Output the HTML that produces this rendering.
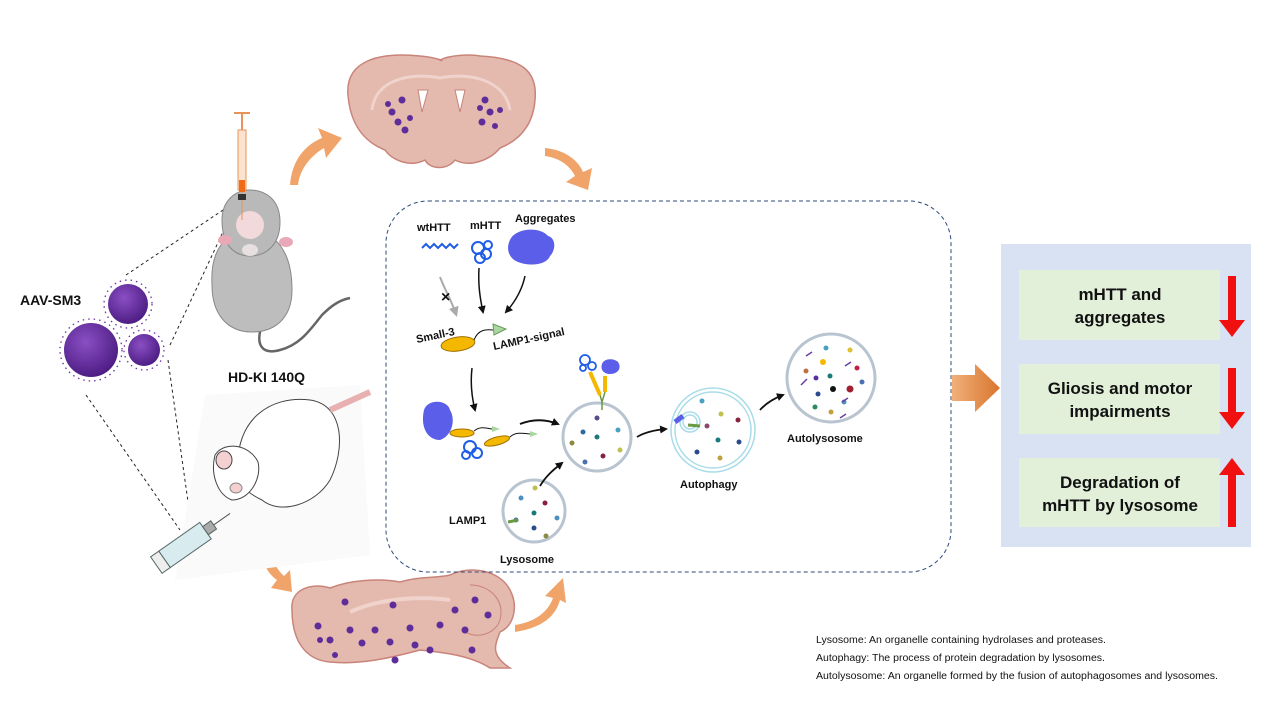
<!DOCTYPE html>
<html><head><meta charset="utf-8"><style>
html,body{margin:0;padding:0;background:#fff}
svg{display:block}
text{font-family:"Liberation Sans",Arial,sans-serif}
</style></head><body>
<svg width="1269" height="714" viewBox="0 0 1269 714" xmlns="http://www.w3.org/2000/svg">
<defs>
<marker id="ah" markerWidth="8" markerHeight="8" refX="6" refY="4" orient="auto" markerUnits="userSpaceOnUse"><path d="M0,0 L8,4 L0,8 Z" fill="#111"/></marker>
<marker id="ahg" markerWidth="10" markerHeight="10" refX="7" refY="5" orient="auto" markerUnits="userSpaceOnUse"><path d="M0,0 L10,5 L0,10 Z" fill="#aaa"/></marker>
<radialGradient id="vir" cx="0.4" cy="0.35" r="0.7"><stop offset="0" stop-color="#8a4fc4"/><stop offset="1" stop-color="#4a1a80"/></radialGradient>
<linearGradient id="bigarr" x1="0" x2="1"><stop offset="0" stop-color="#f0b07a"/><stop offset="1" stop-color="#d9752e"/></linearGradient>
</defs>

<!-- coronal brain -->
<path d="M348,95 C345,60 380,52 420,56 C440,58 445,62 440,60 C450,55 470,54 480,56 C520,58 538,70 535,100 C533,125 520,140 500,148 C490,160 470,168 455,160 C448,170 430,170 425,160 C410,168 392,160 385,150 C360,140 350,120 348,95 Z" fill="#e4b9ae" stroke="#c9847a" stroke-width="1.5"/>
<path d="M372,110 C375,80 410,72 440,78 C470,72 505,80 510,110" fill="none" stroke="#f0d3cc" stroke-width="3"/>
<path d="M418,90 L428,90 L422,112 Z" fill="#fff" stroke="#c9847a"/>
<path d="M455,90 L465,90 L460,112 Z" fill="#fff" stroke="#c9847a"/>
<g fill="#5e2d9a">
<circle cx="392" cy="112" r="3.5"/><circle cx="402" cy="100" r="3.5"/><circle cx="398" cy="122" r="3.5"/><circle cx="405" cy="130" r="3.5"/><circle cx="388" cy="104" r="3"/><circle cx="410" cy="118" r="3"/>
<circle cx="485" cy="100" r="3.5"/><circle cx="490" cy="112" r="3.5"/><circle cx="482" cy="122" r="3.5"/><circle cx="495" cy="126" r="3"/><circle cx="480" cy="108" r="3"/><circle cx="500" cy="110" r="3"/>
</g>

<!-- sagittal brain -->
<path d="M292,610 C290,590 310,582 330,588 C350,580 380,578 400,582 C420,576 440,578 450,575 C470,565 500,570 510,590 C518,605 515,625 500,632 C495,645 490,655 510,668 L490,668 C470,655 440,652 420,650 C390,658 360,665 330,662 C305,660 292,640 292,610 Z" fill="#e4b9ae" stroke="#c9847a" stroke-width="1.5"/>
<path d="M470,585 C490,585 505,600 500,620 C495,635 475,640 462,630" fill="none" stroke="#c9847a"/>
<path d="M350,612 C380,598 420,596 450,600" fill="none" stroke="#f0d3cc" stroke-width="4"/>
<g fill="#5e2d9a">
<circle cx="318" cy="626" r="3.5"/><circle cx="330" cy="640" r="3.5"/><circle cx="350" cy="630" r="3.5"/><circle cx="362" cy="643" r="3.5"/><circle cx="375" cy="630" r="3.5"/><circle cx="345" cy="602" r="3.5"/>
<circle cx="393" cy="605" r="3.5"/><circle cx="390" cy="642" r="3.5"/><circle cx="395" cy="660" r="3.5"/><circle cx="410" cy="628" r="3.5"/><circle cx="415" cy="645" r="3.5"/><circle cx="430" cy="650" r="3.5"/>
<circle cx="440" cy="625" r="3.5"/><circle cx="455" cy="610" r="3.5"/><circle cx="465" cy="630" r="3.5"/><circle cx="475" cy="600" r="3.5"/><circle cx="488" cy="615" r="3.5"/><circle cx="472" cy="650" r="3.5"/><circle cx="335" cy="655" r="3"/><circle cx="320" cy="640" r="3"/>
</g>

<!-- orange curved arrows -->
<g fill="#f0a46a">
<path d="M290,185 C292,160 305,145 322,138 L318,128 L342,138 L326,158 L324,148 C312,155 300,168 298,185 Z"/>
<path d="M545,148 C565,150 578,160 583,172 L592,168 L588,190 L566,182 L575,176 C570,166 560,158 545,156 Z"/>
<path d="M260,530 C258,555 265,572 277,580 L271,588 L292,592 L290,570 L284,576 C274,567 268,552 268,530 Z"/>
<path d="M515,625 C535,622 548,612 553,598 L545,596 L563,578 L566,603 L560,600 C555,618 540,628 515,632 Z"/>
</g>

<!-- dashed lines from virus -->
<g stroke="#222" stroke-width="1" stroke-dasharray="3,3" fill="none">
<path d="M126,275 L238,200"/><path d="M170,345 L238,200"/>
<path d="M86,395 L180,530"/><path d="M168,360 L192,530"/>
</g>

<!-- viruses -->
<g stroke="#6b2fa8" stroke-width="1.3">
<circle cx="128" cy="304" r="20" fill="url(#vir)" stroke="none"/>
<circle cx="91" cy="350" r="27" fill="url(#vir)" stroke="none"/>
<circle cx="144" cy="350" r="16" fill="url(#vir)" stroke="none"/>
<g fill="none" stroke-dasharray="1.5,4">
<circle cx="128" cy="304" r="24"/><circle cx="91" cy="350" r="31"/><circle cx="144" cy="350" r="20"/>
</g>
</g>
<text x="20" y="305" font-size="14" font-weight="bold" fill="#111">AAV-SM3</text>

<!-- gray mouse -->
<path d="M262,325 C255,345 262,355 280,350 C300,345 310,330 322,315 C332,305 340,300 350,298" fill="none" stroke="#666" stroke-width="2.5"/>
<path d="M212,285 C210,250 225,232 250,230 C275,232 292,250 292,290 C292,318 275,332 252,332 C228,332 212,315 212,285 Z" fill="#bdbdbd" stroke="#888"/>
<path d="M222,220 C222,200 236,190 250,190 C266,190 280,200 280,222 C280,245 266,256 250,256 C234,256 222,245 222,220 Z" fill="#b9b9b9" stroke="#888"/>
<ellipse cx="250" cy="225" rx="14" ry="14" fill="#f2d9db"/>
<ellipse cx="250" cy="250" rx="8" ry="6" fill="#e8e0e0"/>
<ellipse cx="225" cy="240" rx="7" ry="5" fill="#e8a8b8"/><ellipse cx="286" cy="242" rx="7" ry="5" fill="#e8a8b8"/>
<!-- syringe top -->
<rect x="238" y="130" width="8" height="60" fill="#fbe3cf" stroke="#e8935a"/>
<rect x="239" y="180" width="6" height="12" fill="#f06a1a"/>
<line x1="242" y1="112" x2="242" y2="130" stroke="#e8935a" stroke-width="2"/>
<line x1="234" y1="113" x2="250" y2="113" stroke="#e8935a" stroke-width="2"/>
<line x1="242" y1="192" x2="242" y2="220" stroke="#e8935a"/>
<rect x="238" y="194" width="8" height="6" fill="#333"/>

<text x="228" y="382" font-size="14" font-weight="bold" fill="#111">HD-KI 140Q</text>

<!-- white mouse area -->
<path d="M205,395 L360,385 L370,555 L175,580 Z" fill="#fafafa"/>
<path d="M238,470 C235,420 270,395 310,400 C345,405 345,450 330,480 C315,505 280,515 262,500 C245,492 240,485 238,470 Z" fill="#fff" stroke="#444"/>
<path d="M330,410 L370,392" stroke="#e8b0b0" stroke-width="6"/>
<path d="M215,455 C225,440 250,445 258,462 C262,478 250,500 232,500 C218,495 210,475 215,455 Z" fill="#fff" stroke="#444"/>
<ellipse cx="224" cy="460" rx="8" ry="9" fill="#f5d0d0" stroke="#444"/>
<ellipse cx="236" cy="488" rx="6" ry="5" fill="#f5d0d0" stroke="#888"/>
<!-- syringe bottom -->
<g transform="rotate(-35 185 545)">
<rect x="160" y="535" width="50" height="20" fill="#d8ecef" stroke="#566"/>
<rect x="150" y="535" width="10" height="20" fill="#eee" stroke="#566"/>
<rect x="210" y="540" width="10" height="10" fill="#aaa" stroke="#566"/>
<line x1="220" y1="545" x2="240" y2="545" stroke="#555"/>
</g>

<!-- dashed panel -->
<rect x="386" y="201" width="565" height="371" rx="42" fill="none" stroke="#2c4a7a" stroke-width="1" stroke-dasharray="4,3"/>

<g font-size="11" font-weight="bold" fill="#111">
<text x="417" y="231">wtHTT</text>
<text x="470" y="229">mHTT</text>
<text x="515" y="222">Aggregates</text>
<text x="417" y="343" transform="rotate(-12 417 343)">Small-3</text>
<text x="494" y="350" transform="rotate(-12 494 350)">LAMP1-signal</text>
<text x="449" y="524">LAMP1</text>
<text x="500" y="563">Lysosome</text>
<text x="680" y="488">Autophagy</text>
<text x="787" y="442">Autolysosome</text>
</g>
<path d="M422,248 l4,-4 l4,4 l4,-4 l4,4 l4,-4 l4,4 l4,-4 l4,4 l4,-4" fill="none" stroke="#1f5de6" stroke-width="2"/>
<g fill="none" stroke="#1f5de6" stroke-width="2">
<circle cx="478" cy="248" r="6"/><circle cx="486" cy="254" r="5"/><circle cx="480" cy="258" r="5"/><circle cx="488" cy="245" r="4"/>
</g>
<path d="M510,240 C515,228 540,226 548,236 C556,238 556,250 550,256 C546,266 528,266 518,262 C508,258 506,248 510,240 Z" fill="#5a5ee8"/>
<path d="M440,277 C445,290 452,302 456,314" fill="none" stroke="#aaa" stroke-width="2" marker-end="url(#ahg)"/>
<text x="441" y="302" font-size="16" font-weight="bold" fill="#111">×</text>
<path d="M479,268 C478,285 480,298 483,312" fill="none" stroke="#111" stroke-width="1.5" marker-end="url(#ah)"/>
<path d="M525,276 C522,290 515,302 506,312" fill="none" stroke="#111" stroke-width="1.5" marker-end="url(#ah)"/>
<ellipse cx="458" cy="344" rx="17" ry="7" transform="rotate(-8 458 344)" fill="#f5b800" stroke="#a07000"/>
<path d="M474,340 C478,330 485,329 493,330" fill="none" stroke="#111"/>
<path d="M493,324 L506,329 L494,335 Z" fill="#a8d8a0" stroke="#6a9a60"/>
<path d="M472,368 C470,385 472,398 475,410" fill="none" stroke="#111" stroke-width="1.5" marker-end="url(#ah)"/>
<path d="M424,410 C428,398 448,400 450,410 C456,420 452,436 440,440 C428,440 420,428 424,410 Z" fill="#5a5ee8"/>
<ellipse cx="462" cy="433" rx="12" ry="4" fill="#f5b800" stroke="#a07000"/>
<path d="M474,431 C480,426 486,428 492,429" fill="none" stroke="#111"/><path d="M492,426 L500,429 L492,432 Z" fill="#a8d8a0"/>
<g fill="none" stroke="#1f5de6" stroke-width="2"><circle cx="470" cy="447" r="6"/><circle cx="477" cy="453" r="5"/><circle cx="466" cy="455" r="4"/></g>
<ellipse cx="497" cy="441" rx="13" ry="4" transform="rotate(-15 497 441)" fill="#f5b800" stroke="#a07000"/>
<path d="M510,437 C515,432 522,433 530,434" fill="none" stroke="#111"/><path d="M530,431 L538,434 L530,437 Z" fill="#a8d8a0"/>
<path d="M520,424 C535,418 548,420 558,424" fill="none" stroke="#111" stroke-width="2" marker-end="url(#ah)"/>
<g fill="#fff" stroke="#b8c4d0" stroke-width="3">
<circle cx="597" cy="437" r="34"/>
<circle cx="534" cy="511" r="31"/>
<circle cx="831" cy="378" r="44"/>
</g>
<g fill="none" stroke="#a8dce8" stroke-width="1.5">
<circle cx="713" cy="430" r="42"/><circle cx="713" cy="430" r="38"/>
<circle cx="690" cy="422" r="10"/><circle cx="690" cy="422" r="7"/>
</g>
<g>
<circle cx="597" cy="418" r="2.5" fill="#5a4a8a"/><circle cx="583" cy="432" r="2.5" fill="#2a6aa0"/><circle cx="597" cy="437" r="2.5" fill="#1a7a7a"/><circle cx="618" cy="430" r="2.5" fill="#4aa0c0"/><circle cx="572" cy="443" r="2.5" fill="#8a8a40"/><circle cx="620" cy="450" r="2.5" fill="#c0c050"/><circle cx="603" cy="456" r="2.5" fill="#8a2040"/><circle cx="585" cy="462" r="2.5" fill="#4a70b0"/>
<circle cx="535" cy="488" r="2.5" fill="#c0c050"/><circle cx="521" cy="498" r="2.5" fill="#4a90c0"/><circle cx="545" cy="503" r="2.5" fill="#8a2040"/><circle cx="534" cy="513" r="2.5" fill="#1a7a7a"/><circle cx="516" cy="520" r="2.5" fill="#4a70b0"/><circle cx="557" cy="518" r="2.5" fill="#4a90c0"/><circle cx="534" cy="528" r="2.5" fill="#2a4a90"/><circle cx="546" cy="536" r="2.5" fill="#8a8a40"/>
<circle cx="702" cy="401" r="2.5" fill="#4aa0c0"/><circle cx="721" cy="414" r="2.5" fill="#c0c050"/><circle cx="738" cy="420" r="2.5" fill="#8a2040"/><circle cx="718" cy="440" r="2.5" fill="#1a7a7a"/><circle cx="739" cy="442" r="2.5" fill="#2a4a90"/><circle cx="697" cy="452" r="2.5" fill="#2a4a90"/><circle cx="720" cy="458" r="2.5" fill="#c0a040"/><circle cx="707" cy="426" r="2.5" fill="#8a4a6a"/>
<circle cx="826" cy="348" r="2.5" fill="#4aa0c0"/><circle cx="850" cy="350" r="2.5" fill="#e0c030"/><circle cx="823" cy="362" r="3" fill="#f5b800"/><circle cx="806" cy="371" r="2.5" fill="#c07040"/><circle cx="830" cy="376" r="2.5" fill="#1a7a7a"/><circle cx="857" cy="368" r="2.5" fill="#c02040"/><circle cx="816" cy="378" r="2.5" fill="#5a30a0"/><circle cx="833" cy="389" r="3" fill="#111"/><circle cx="850" cy="389" r="3.5" fill="#a02030"/><circle cx="862" cy="382" r="2.5" fill="#4a70b0"/><circle cx="818" cy="394" r="2.5" fill="#2a4a90"/><circle cx="815" cy="407" r="2.5" fill="#2a8a60"/><circle cx="844" cy="402" r="2.5" fill="#4a90c0"/><circle cx="831" cy="412" r="2.5" fill="#c0a040"/>
</g>
<path d="M806,356 l6,-4 M845,366 l6,-4 M801,385 l6,-6 M842,402 l6,-4 M840,418 l6,-4" stroke="#6a40a0" stroke-width="1.5"/>
<g fill="none" stroke="#1f5de6" stroke-width="1.8"><circle cx="585" cy="360" r="5"/><circle cx="592" cy="366" r="4"/><circle cx="583" cy="368" r="3"/></g>
<path d="M602,364 C604,358 614,358 618,362 C622,368 618,374 610,374 C604,374 600,370 602,364 Z" fill="#5a5ee8"/>
<path d="M590,372 L600,395" stroke="#f5b800" stroke-width="4"/><path d="M605,376 L605,392" stroke="#f5b800" stroke-width="4"/>
<path d="M600,395 L602,402 L605,392 M602,402 L602,410" stroke="#6a9a40" fill="none" stroke-width="1.5"/>
<path d="M683,416 L675,422" stroke="#5a5ee8" stroke-width="5"/><path d="M688,425 L700,426" stroke="#6a9a40" stroke-width="3"/>
<path d="M508,522 L518,520" stroke="#6a9a40" stroke-width="3"/>
<path d="M540,486 C546,476 553,470 562,463" fill="none" stroke="#111" stroke-width="1.8" marker-end="url(#ah)"/>
<path d="M637,437 C645,432 655,430 666,429" fill="none" stroke="#111" stroke-width="1.8" marker-end="url(#ah)"/>
<path d="M760,410 C767,402 775,398 783,395" fill="none" stroke="#111" stroke-width="1.8" marker-end="url(#ah)"/>

<path d="M952,375 L975,375 L975,364 L1000,388 L975,412 L975,401 L952,401 Z" fill="url(#bigarr)"/>

<rect x="1001" y="244" width="250" height="303" fill="#d9e2f3"/>
<g fill="#e2efd9">
<rect x="1019" y="270" width="201" height="70"/>
<rect x="1019" y="364" width="201" height="70"/>
<rect x="1019" y="458" width="201" height="69"/>
</g>
<g font-size="17" font-weight="bold" fill="#111" text-anchor="middle">
<text x="1120" y="300">mHTT and</text><text x="1120" y="323">aggregates</text>
<text x="1120" y="394">Gliosis and motor</text><text x="1120" y="417">impairments</text>
<text x="1120" y="488">Degradation of</text><text x="1120" y="511">mHTT by lysosome</text>
</g>
<g fill="#f01010">
<path d="M1228,276 L1236,276 L1236,320 L1245,320 L1232,337 L1219,320 L1228,320 Z"/>
<path d="M1228,368 L1236,368 L1236,412 L1245,412 L1232,429 L1219,412 L1228,412 Z"/>
<path d="M1232,458 L1245,475 L1236,475 L1236,527 L1228,527 L1228,475 L1219,475 Z"/>
</g>

<g font-size="10" fill="#111">
<text x="816" y="643" textLength="290" lengthAdjust="spacingAndGlyphs">Lysosome: An organelle containing hydrolases and proteases.</text>
<text x="816" y="661" textLength="289" lengthAdjust="spacingAndGlyphs">Autophagy: The process of protein degradation by lysosomes.</text>
<text x="816" y="679" textLength="402" lengthAdjust="spacingAndGlyphs">Autolysosome: An organelle formed by the fusion of autophagosomes and lysosomes.</text>
</g>
</svg>
</body></html>
